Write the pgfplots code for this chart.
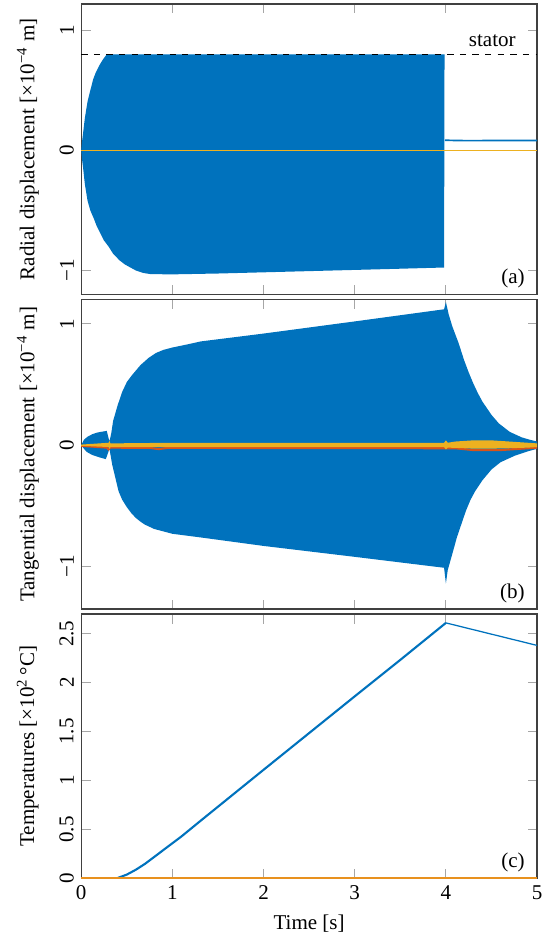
\documentclass[border=0pt]{standalone}
\usepackage{fontspec}
\setmainfont{Liberation Serif}
\usepackage{pgfplots}
\pgfplotsset{compat=1.18}
\definecolor{mblue}{RGB}{0,114,189}
\definecolor{mred}{RGB}{217,83,25}
\definecolor{myel}{RGB}{237,177,32}
\definecolor{morange}{RGB}{232,145,30}
\tikzset{panlab/.style={anchor=south east, inner sep=0pt, xshift=-5.7pt, yshift=2.8pt}}
\pgfplotsset{
  myax/.style={
    scale only axis,
    width=216.7pt,
    xmin=0, xmax=5,
    xtick={0,1,2,3,4,5},
    tick pos=both,
    tick align=inside,
    major tick length=4.5pt,
    tick style={black!35, line width=0.5pt},
    axis line style={black!75, line width=0.6pt},
    yticklabel style={rotate=90, anchor=south},
    ylabel shift=3pt,
    ylabel style={font=\normalsize},
    every tick label/.append style={font=\normalsize},
    /pgf/number format/assume math mode=true,
    clip=true,
  }
}
\begin{document}
\begin{tikzpicture}
% ---------------- (a)
\begin{axis}[myax, name=a, height=138.1pt,
  ymin=-1.2, ymax=1.22,
  ytick={-1,0,1}, yticklabels={−1,0,1},
  xticklabels={},
  ylabel={Radial displacement [×10\textsuperscript{−4} m]}]
\addplot[fill=mblue, draw=none] coordinates {
(0,0) (0.01,0.08) (0.02,0.14) (0.04,0.27) (0.07,0.41) (0.1,0.5) (0.13,0.59) (0.16,0.65) (0.2,0.71) (0.24,0.76) (0.28,0.8)
(3.985,0.8) (3.98,-0.975)
(3.5,-0.985) (3,-0.995) (2.5,-1.005) (2,-1.015) (1.5,-1.025) (1,-1.032) (0.76,-1.03) (0.68,-1.02) (0.6,-1.0)
(0.54,-0.975) (0.48,-0.95) (0.42,-0.915) (0.35,-0.86) (0.3,-0.8) (0.25,-0.75) (0.21,-0.69) (0.17,-0.63)
(0.14,-0.57) (0.1,-0.5) (0.07,-0.42) (0.04,-0.28) (0.02,-0.14) (0.01,-0.08) (0,0)
} \closedcycle;
\addplot[mblue, line width=0.8pt] coordinates {(3.99,0.085) (4.2,0.082) (5,0.083)};
\addplot[myel, line width=0.6pt] coordinates {(0,0) (5,0)};
\addplot[black, dashed, line width=0.6pt] coordinates {(0,0.8) (5,0.8)};
\node[anchor=base east, inner sep=0pt, yshift=3.8pt] at (axis cs:4.77,0.8) {stator};
\node[panlab] at (rel axis cs:1,0) {(a)};
\end{axis}
% ---------------- (b)
\begin{axis}[myax, name=b, height=147.1pt,
  at={(a.south west)}, anchor=north west, yshift=-2.4pt,
  ymin=-1.35, ymax=1.2,
  ytick={-1,0,1}, yticklabels={−1,0,1},
  xticklabels={},
  ylabel={Tangential displacement [×10\textsuperscript{−4} m]}]
\addplot[fill=mblue, draw=none] coordinates {
(0,0) (0.03,0.045) (0.07,0.07) (0.12,0.09) (0.18,0.105) (0.24,0.113) (0.28,0.118) (0.31,0.03)
(0.33,0.1) (0.35,0.2) (0.4,0.33) (0.45,0.44) (0.5,0.52) (0.56,0.58) (0.65,0.66) (0.74,0.72)
(0.82,0.76) (0.9,0.785) (1.0,0.805) (1.16,0.83) (1.31,0.855) (2,0.92) (3,1.02) (3.98,1.12) (4.0,1.18)
(4.03,1.08) (4.07,0.98) (4.1,0.92) (4.14,0.84) (4.2,0.7) (4.25,0.6) (4.3,0.51) (4.35,0.43) (4.4,0.36)
(4.5,0.25) (4.58,0.18) (4.7,0.11) (4.83,0.065) (4.92,0.045) (5,0.03)
(5,-0.03) (4.9,-0.05) (4.76,-0.085) (4.6,-0.14) (4.5,-0.2) (4.4,-0.29) (4.32,-0.38) (4.27,-0.45)
(4.22,-0.54) (4.17,-0.65) (4.12,-0.76) (4.08,-0.87) (4.05,-0.95) (4.02,-1.03) (4.0,-1.14)
(3.98,-1.01) (3,-0.92) (2,-0.83) (1.31,-0.76) (1.0,-0.73) (0.8,-0.69) (0.7,-0.655) (0.65,-0.63)
(0.6,-0.6) (0.55,-0.56) (0.5,-0.51) (0.45,-0.45) (0.41,-0.38)
(0.34,-0.16) (0.31,-0.03) (0.27,-0.115) (0.2,-0.1) (0.12,-0.08) (0.06,-0.055) (0.02,-0.02) (0,0)
} \closedcycle;
\addplot[mred, line width=1pt] coordinates {
(0,-0.005) (0.28,-0.02) (0.3,-0.035) (0.32,-0.02) (0.75,-0.022) (0.85,-0.032) (0.95,-0.022)
(4.1,-0.025) (4.3,-0.04) (4.6,-0.04) (4.9,-0.025) (5,-0.02)};
\addplot[fill=myel, draw=none] coordinates {
(0,0.005) (0.3,0.02) (0.31,0.035) (0.32,0.015) (1,0.02) (3.98,0.02) (4,0.04) (4.02,0.02)
(4.1,0.03) (4.3,0.04) (4.5,0.04) (4.7,0.03) (4.9,0.02) (5,0.015)
(5,-0.015) (4.9,-0.02) (4.7,-0.025) (4.5,-0.028) (4.3,-0.028) (4.1,-0.022) (4.02,-0.02) (4,-0.035)
(3.98,-0.015) (1,-0.015) (0.32,-0.015) (0.31,-0.03) (0.3,-0.015) (0,-0.005)
} \closedcycle;
\node[panlab] at (rel axis cs:1,0) {(b)};
\end{axis}
% ---------------- (c)
\begin{axis}[myax, name=c, height=125.7pt,
  at={(b.south west)}, anchor=north west, yshift=-2.4pt,
  ymin=0, ymax=2.7,
  ytick={0,0.5,1,1.5,2,2.5}, yticklabels={0,0.5,1,1.5,2,2.5},
  xticklabels={0,1,2,3,4,5},
  xlabel={Time [s]},
  ylabel={Temperatures [×10\textsuperscript{2}\,°C]}]
\addplot[mblue, line width=1pt] coordinates {
(0,0) (0.35,0) (0.4,0.005) (0.5,0.04) (0.6,0.09) (0.7,0.15) (0.8,0.22) (0.9,0.29) (1,0.36)
(1.1,0.43) (1.31,0.59) (2,1.11) (3,1.86) (3.51,2.24) (4,2.61)};
\addplot[mblue, line width=0.6pt] coordinates {(4,2.61) (5,2.38)};
\addplot[morange, line width=1pt] coordinates {(0,0) (5,0)};
\node[panlab] at (rel axis cs:1,0) {(c)};
\end{axis}
\path ([xshift=-38.6pt]c.south west) ([xshift=7.6pt]c.south east) ([yshift=1.9pt]a.north west);
\end{tikzpicture}
\end{document}
